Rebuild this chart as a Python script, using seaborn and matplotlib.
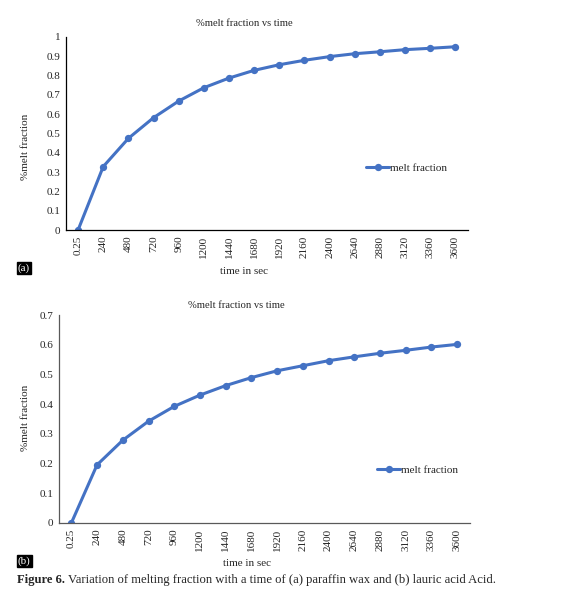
import matplotlib
matplotlib.use("Agg")
import matplotlib.pyplot as plt
import numpy as np
import pandas as pd
import seaborn as sns

# Time labels shared by both panels (categorical x axis, as in the Excel chart).
TIME_LABELS = ["0.25", "240", "480", "720", "960", "1200", "1440", "1680",
               "1920", "2160", "2400", "2640", "2880", "3120", "3360", "3600"]

# (a) paraffin wax melt fraction
PARAFFIN_MELT = [0.0, 0.328, 0.474, 0.581, 0.667, 0.736, 0.786, 0.826,
                 0.855, 0.878, 0.897, 0.912, 0.922, 0.933, 0.940, 0.948]

# (b) lauric acid melt fraction
LAURIC_MELT = [0.0, 0.196, 0.279, 0.343, 0.393, 0.431, 0.463, 0.490,
               0.513, 0.530, 0.547, 0.560, 0.572, 0.582, 0.593, 0.602]

A_TICKS = [0, 0.1, 0.2, 0.3, 0.4, 0.5, 0.6, 0.7, 0.8, 0.9, 1.0]
A_TICK_LABELS = ["0", "0.1", "0.2", "0.3", "0.4", "0.5", "0.6", "0.7", "0.8", "0.9", "1"]
B_TICKS = [0, 0.1, 0.2, 0.3, 0.4, 0.5, 0.6, 0.7]
B_TICK_LABELS = ["0", "0.1", "0.2", "0.3", "0.4", "0.5", "0.6", "0.7"]

LINE_BLUE = "#4472C4"
SERIF = ["Liberation Serif", "DejaVu Serif"]

sns.set_style("white")
plt.rcParams["font.family"] = SERIF

W, H = 576, 600


def fx(px):
    return px / W


def fy(py):
    return 1 - py / H


def draw_panel(fig, rect, values, ticks, tick_labels, spine_color, title_xy,
               xlabel_xy, ylabel_xy, legend_xy, tag, tag_xy):
    ax = fig.add_axes(rect)
    data = pd.DataFrame({"time": TIME_LABELS, "melt fraction": values})
    sns.pointplot(data=data, x="time", y="melt fraction", order=TIME_LABELS,
                  color=LINE_BLUE, markers="o", linestyles="-", errorbar=None,
                  markersize=3.6, linewidth=2.2, ax=ax, label="melt fraction")

    ax.set_xlim(-0.48, 15.5)
    ax.set_ylim(ticks[0], ticks[-1])
    ax.set_yticks(ticks)
    ax.set_yticklabels(tick_labels, fontsize=8)
    ax.set_xticks(range(len(TIME_LABELS)))
    ax.set_xticklabels(TIME_LABELS, rotation=90, fontsize=8)
    ax.tick_params(axis="both", length=0, pad=4)
    ax.set_xlabel("")
    ax.set_ylabel("")
    for side in ["top", "right"]:
        ax.spines[side].set_visible(False)
    for side in ["left", "bottom"]:
        ax.spines[side].set_color(spine_color)
        ax.spines[side].set_linewidth(0.9)

    ax.legend(loc="center left", frameon=False, fontsize=8,
              bbox_to_anchor=legend_xy, bbox_transform=fig.transFigure,
              handlelength=2.0, handletextpad=0.1, borderaxespad=0)

    fig.text(fx(title_xy[0]), fy(title_xy[1]), "%melt fraction vs time",
             ha="center", va="center", fontsize=7.6)
    fig.text(fx(xlabel_xy[0]), fy(xlabel_xy[1]), "time in sec",
             ha="center", va="center", fontsize=8)
    fig.text(fx(ylabel_xy[0]), fy(ylabel_xy[1]), "%melt fraction",
             ha="center", va="center", rotation=90, fontsize=8)
    fig.text(fx(tag_xy[0]), fy(tag_xy[1]), tag, ha="left", va="center",
             fontsize=8, color="white",
             bbox=dict(boxstyle="square,pad=0.1", facecolor="black",
                       edgecolor="black"))
    return ax


fig = plt.figure(figsize=(W / 100, H / 100), dpi=100)

draw_panel(fig, [fx(66), fy(230), fx(468) - fx(66), fy(36.7) - fy(230)],
           PARAFFIN_MELT, A_TICKS, A_TICK_LABELS, "black",
           title_xy=(244, 23), xlabel_xy=(244, 271), ylabel_xy=(26, 147),
           legend_xy=(fx(362), fy(168)), tag="(a)", tag_xy=(18, 268))

draw_panel(fig, [fx(59), fy(523), fx(470) - fx(59), fy(315.3) - fy(523)],
           LAURIC_MELT, B_TICKS, B_TICK_LABELS, "#595959",
           title_xy=(236, 305), xlabel_xy=(247, 564), ylabel_xy=(25, 418),
           legend_xy=(fx(373), fy(470)), tag="(b)", tag_xy=(18, 561))

# Figure caption with bold lead-in.
cap_y = fy(580)
t1 = fig.text(fx(17), cap_y, "Figure 6.", fontsize=9.1, fontweight="bold",
              ha="left", va="center")
fig.canvas.draw()
bb = t1.get_window_extent()
fig.text(bb.x1 / W + 0.006, cap_y,
         "Variation of melting fraction with a time of (a) paraffin wax and (b) lauric acid Acid.",
         fontsize=9.1, ha="left", va="center")

fig.savefig("out.png", dpi=100, facecolor="white")
